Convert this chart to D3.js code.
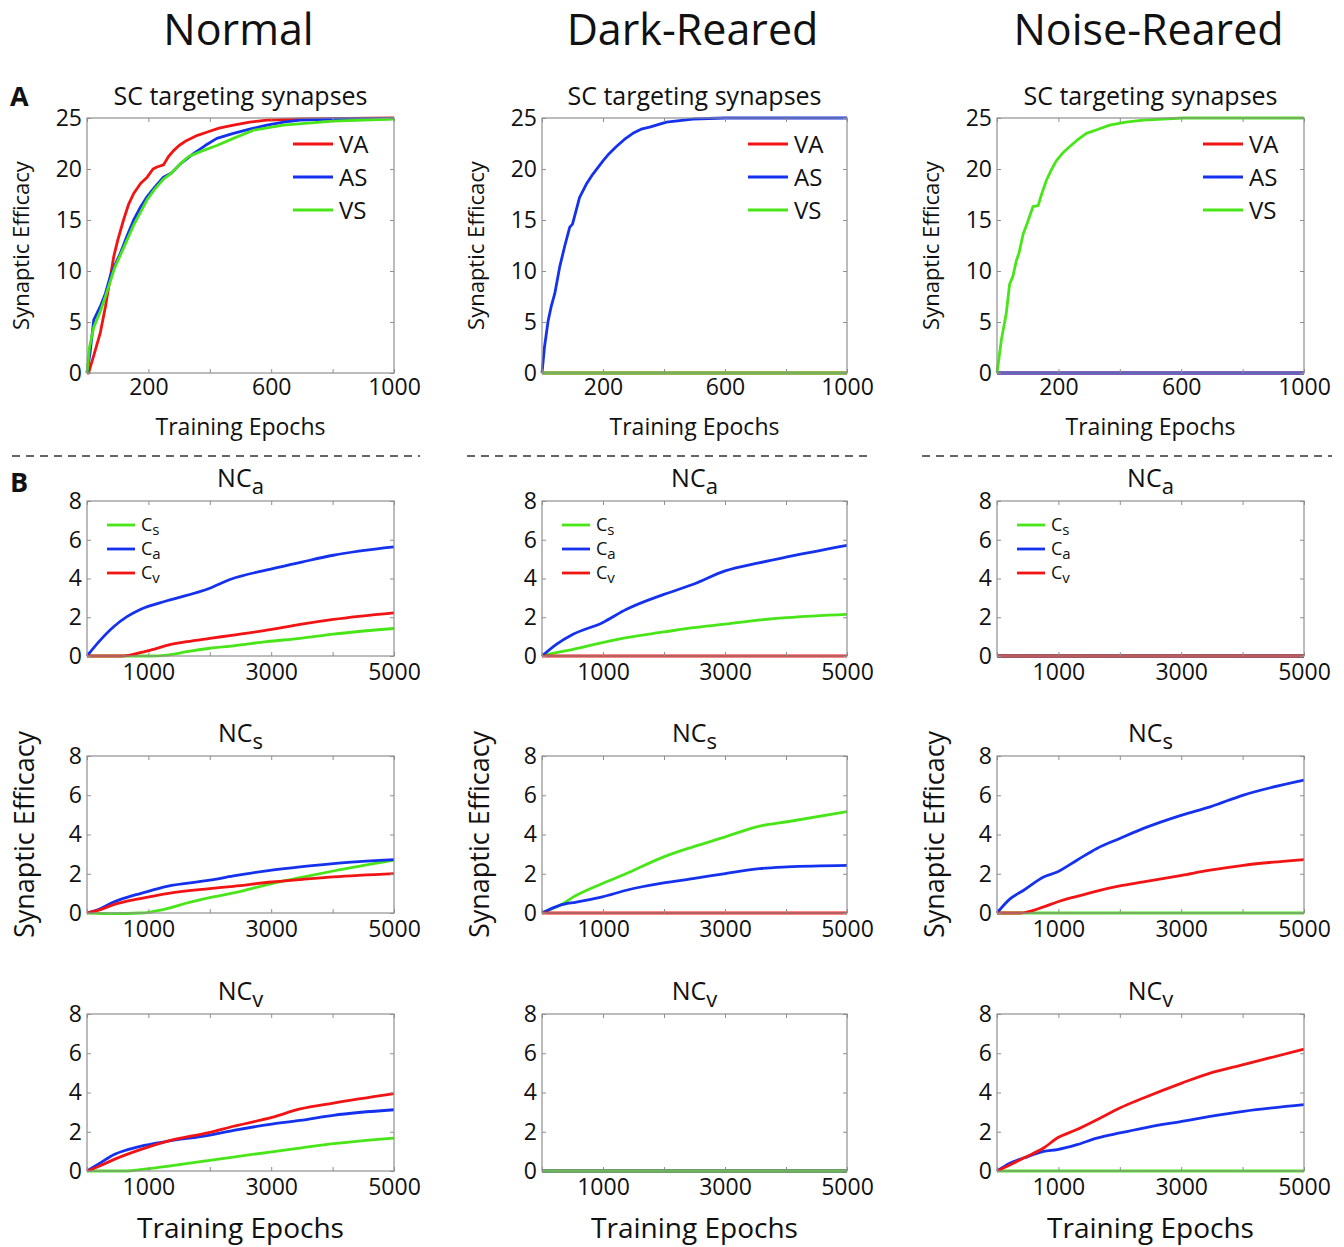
<!DOCTYPE html>
<html>
<head>
<meta charset="utf-8">
<script src="https://cdn.jsdelivr.net/npm/d3@7"></script>
<style>
  body { margin: 0; background: #fff; }
  text { font-family: "Open Sans", sans-serif; fill: #111; }
</style>
</head>
<body>
<div id="chart"></div>
<script>
// ---- data ----
const conditions = ["Normal", "Dark-Reared", "Noise-Reared"];
const scNames = ["VA", "AS", "VS"];
const ncNames = ["a", "s", "v"];          // NC_a, NC_s, NC_v rows
const cNames = ["s", "a", "v"];           // legend C_s, C_a, C_v

const scTicksX = [0, 200, 400, 600, 800, 1000];
const scLabelsX = [200, 600, 1000];
const scTicksY = [0, 5, 10, 15, 20, 25];
const ncTicksX = [0, 1000, 2000, 3000, 4000, 5000];
const ncLabelsX = [1000, 3000, 5000];
const ncTicksY = [0, 2, 4, 6, 8];

const flat1000 = [[0, 0], [1000, 0]];
const flat5000 = [[0, 0], [5000, 0]];

// A: SC targeting synapses [epoch, efficacy]
const normalVA = [[0,0],[5,0],[20,1.5],[43,3.9],[60,6.5],[87,11.4],[100,13],[119,15],[135,16.5],[152,17.6],[175,18.6],[196,19.2],[215,20],[228,20.2],[249,20.4],[265,21.2],[282,21.8],[300,22.3],[325,22.8],[360,23.3],[390,23.6],[430,24],[477,24.3],[530,24.6],[586,24.8],[694,24.9],[1000,25]];
const normalAS = [[0,0],[10,2],[22,5.2],[43,6.5],[60,7.8],[76,9.5],[90,10.5],[108,11.7],[130,13.4],[152,15],[175,16.3],[196,17.3],[220,18.2],[249,19.2],[275,19.6],[304,20.5],[325,21],[347,21.5],[385,22.3],[423,23],[477,23.5],[530,23.9],[586,24.3],[640,24.6],[694,24.8],[800,24.9],[1000,24.95]];
const normalVS = [[0,0],[8,2.5],[22,4.5],[43,6],[60,7.5],[76,9],[90,10.3],[108,11.5],[130,13],[152,14.5],[175,15.8],[196,17],[220,18],[249,19],[275,19.6],[304,20.5],[330,21.2],[369,21.7],[423,22.3],[477,23],[542,23.8],[640,24.3],[720,24.5],[803,24.7],[1000,24.9]];
const darkAS = [[0,0],[8,2.5],[20,5.1],[30,6.5],[42,7.8],[58,10.4],[75,12.5],[91,14.3],[100,14.6],[123,17.2],[145,18.5],[167,19.5],[200,20.8],[220,21.5],[244,22.2],[270,22.9],[298,23.5],[325,23.9],[353,24.1],[408,24.6],[495,24.9],[600,25],[1000,25]];
const noiseVS = [[0,0],[14,3.2],[30,5.8],[41,8.7],[52,9.5],[63,11],[72,11.8],[85,13.6],[100,14.8],[117,16.3],[134,16.4],[145,17.5],[161,18.9],[175,19.8],[193,20.8],[215,21.6],[237,22.2],[260,22.8],[291,23.5],[330,23.9],[367,24.3],[420,24.6],[476,24.8],[607,25],[1000,25]];

// B: neocortex synapses
const normalNCa_Cs = [[0,0],[1030,0],[1302,0.05],[1627,0.22],[2000,0.4],[2386,0.52],[2928,0.74],[3471,0.91],[4013,1.13],[5000,1.42]];
const normalNCa_Ca = [[0,0],[217,0.82],[434,1.51],[651,2.03],[868,2.4],[1302,2.85],[2000,3.5],[2330,3.95],[3010,4.5],[3500,4.85],[4013,5.2],[5000,5.63]];
const normalNCa_Cv = [[0,0],[542,0],[700,0.05],[868,0.17],[1100,0.35],[1302,0.55],[1627,0.74],[2000,0.91],[2386,1.08],[3010,1.37],[3471,1.63],[4013,1.89],[5000,2.23]];
const normalNCs_Cs = [[0,0],[434,-0.03],[868,0],[1030,0.05],[1302,0.22],[1627,0.51],[2000,0.78],[2386,1.02],[3010,1.5],[3471,1.8],[4013,2.14],[5000,2.69]];
const normalNCs_Ca = [[0,0],[217,0.22],[434,0.56],[651,0.8],[868,0.99],[1302,1.36],[2000,1.67],[2386,1.89],[3010,2.18],[3471,2.35],[4013,2.52],[5000,2.72]];
const normalNCs_Cv = [[0,0],[217,0.17],[434,0.43],[651,0.6],[868,0.73],[1302,0.99],[2000,1.24],[2386,1.36],[3010,1.58],[3471,1.7],[4013,1.84],[5000,2.01]];
const normalNCv_Cs = [[0,0],[651,0],[868,0.07],[1302,0.24],[2000,0.54],[2386,0.71],[3010,0.98],[3471,1.17],[4013,1.39],[5000,1.68]];
const normalNCv_Ca = [[0,0],[217,0.41],[434,0.83],[651,1.08],[868,1.26],[1302,1.51],[2000,1.83],[2386,2.07],[3010,2.39],[3471,2.58],[4013,2.84],[5000,3.12]];
const normalNCv_Cv = [[0,0],[217,0.27],[434,0.58],[868,1.09],[1302,1.51],[2000,1.97],[2386,2.28],[3010,2.73],[3471,3.16],[4013,3.46],[5000,3.94]];

const darkNCa_Cs = [[0,0],[235,0.17],[509,0.34],[991,0.69],[1386,0.95],[1999,1.24],[2481,1.46],[3001,1.64],[3576,1.86],[4014,1.98],[5000,2.15]];
const darkNCa_Ca = [[0,0],[235,0.6],[509,1.12],[991,1.72],[1386,2.41],[1999,3.18],[2481,3.7],[3001,4.39],[3576,4.82],[4014,5.11],[5000,5.71]];
const darkNCs_Cs = [[0,0],[290,0.39],[563,0.9],[989,1.5],[1383,2.01],[1995,2.86],[2475,3.37],[3005,3.88],[3568,4.43],[4022,4.65],[5000,5.16]];
const darkNCs_Ca = [[0,0],[290,0.39],[563,0.56],[989,0.82],[1383,1.16],[1995,1.53],[2475,1.75],[3005,2.01],[3568,2.26],[4022,2.35],[5000,2.43]];

const noiseNCs_Ca = [[0,0],[217,0.73],[434,1.16],[759,1.84],[981,2.09],[1302,2.69],[1627,3.29],[2000,3.8],[2386,4.31],[3010,4.99],[3471,5.41],[4013,6.01],[5000,6.77]];
const noiseNCs_Cv = [[0,0],[380,0],[759,0.31],[981,0.56],[1302,0.85],[1627,1.12],[2000,1.38],[2386,1.58],[3010,1.92],[3471,2.18],[4013,2.43],[5000,2.72]];
const noiseNCv_Ca = [[0,0],[217,0.41],[434,0.66],[759,1.0],[981,1.09],[1302,1.34],[1627,1.68],[2000,1.94],[2386,2.19],[3010,2.53],[3471,2.78],[4013,3.04],[5000,3.38]];
const noiseNCv_Cv = [[0,0],[217,0.32],[434,0.66],[759,1.17],[981,1.68],[1302,2.11],[1627,2.61],[2000,3.21],[2386,3.72],[3010,4.48],[3471,4.99],[4013,5.42],[5000,6.21]];

const RED = "#f21414", BLUE = "#1432ee", GREEN = "#48e618";

// ---- layout ----
const W = 1344, H = 1247;
const cols = [{ x0: 87, x1: 394 }, { x0: 542, x1: 847 }, { x0: 997, x1: 1304 }];
const rowA = { y0: 118, y1: 373 };
const rowsB = [{ y0: 501, y1: 656 }, { y0: 756, y1: 913 }, { y0: 1014, y1: 1171 }];

const svg = d3.select("#chart").append("svg")
    .attr("width", W).attr("height", H);

// column headers
conditions.forEach((c, i) => {
    svg.append("text")
        .attr("x", (cols[i].x0 + cols[i].x1) / 2 - 2)
        .attr("y", 45)
        .attr("text-anchor", "middle")
        .style("font-size", "43px")
        .text(c);
});

// panel letters
[["A", 106], ["B", 492]].forEach(([t, y]) => {
    svg.append("text").attr("x", 10).attr("y", y)
        .style("font-size", "27px").style("font-weight", "bold")
        .text(t);
});

// dashed separator
cols.forEach((c, i) => {
    svg.append("line")
        .attr("x1", c.x0 - 75).attr("x2", c.x1 + (i === 2 ? 28 : 26))
        .attr("y1", 456).attr("y2", 456)
        .attr("stroke", "#333").attr("stroke-width", 1.6)
        .attr("stroke-dasharray", "8,6");
});

// generic panel
function drawPanel(p) {
    const x = d3.scaleLinear().domain(p.xDomain).range([p.box.x0, p.box.x1]);
    const y = d3.scaleLinear().domain(p.yDomain).range([p.box.y1, p.box.y0]);
    const g = svg.append("g");
    const w = p.box.x1 - p.box.x0, h = p.box.y1 - p.box.y0;

    // lines first so the frame sits on top
    const line = d3.line().x(d => x(d[0])).y(d => y(d[1])).curve(p.curve || d3.curveLinear);
    p.series.forEach(s => {
        g.append("path")
            .attr("d", line(s.data))
            .attr("fill", "none")
            .attr("stroke", s.color)
            .attr("stroke-width", 2.8)
            .attr("stroke-linejoin", "round");
    });

    g.append("rect")
        .attr("x", p.box.x0).attr("y", p.box.y0)
        .attr("width", w).attr("height", h)
        .attr("fill", "none").attr("stroke", "#8f8f8f").attr("stroke-width", 1.2);

    const fmtX = d => p.xLabels.includes(d) ? d : "";
    const bottom = g.append("g").attr("transform", `translate(0,${p.box.y1})`)
        .call(d3.axisBottom(x).tickValues(p.xTicks).tickFormat(fmtX).tickSizeInner(-4).tickSizeOuter(0).tickPadding(p.xPad));
    const top = g.append("g").attr("transform", `translate(0,${p.box.y0})`)
        .call(d3.axisTop(x).tickValues(p.xTicks).tickFormat("").tickSizeInner(-4).tickSizeOuter(0));
    const left = g.append("g").attr("transform", `translate(${p.box.x0},0)`)
        .call(d3.axisLeft(y).tickValues(p.yTicks).tickSizeInner(-4).tickSizeOuter(0).tickPadding(5));
    const right = g.append("g").attr("transform", `translate(${p.box.x1},0)`)
        .call(d3.axisRight(y).tickValues(p.yTicks).tickFormat("").tickSizeInner(-4).tickSizeOuter(0));
    [bottom, top, left, right].forEach(a => {
        a.select(".domain").remove();
        a.selectAll(".tick line").attr("stroke", "#8f8f8f");
        a.selectAll(".tick text").attr("fill", "#111")
            .style("font-family", "'Open Sans', sans-serif").style("font-size", "23px");
    });

    // title
    const cx = (p.box.x0 + p.box.x1) / 2;
    const t = svg.append("text").attr("x", cx).attr("y", p.box.y0 - p.titleGap)
        .attr("text-anchor", "middle").style("font-size", "25px");
    t.append("tspan").text(p.title);
    if (p.sub) t.append("tspan").attr("dy", 7).style("font-size", "22px").text(p.sub);

    // legend
    if (p.legend) {
        p.legend.items.forEach((it, i) => {
            const ly = p.legend.y + i * p.legend.step;
            svg.append("line")
                .attr("x1", p.box.x0 + p.legend.dx).attr("x2", p.box.x0 + p.legend.dx + p.legend.len)
                .attr("y1", ly).attr("y2", ly)
                .attr("stroke", it.color).attr("stroke-width", 2.8);
            const lt = svg.append("text")
                .attr("x", p.box.x0 + p.legend.dx + p.legend.len + 6)
                .attr("y", ly + p.legend.size * 0.36)
                .style("font-size", p.legend.size + "px");
            lt.append("tspan").text(it.label);
            if (it.sub) lt.append("tspan").attr("dy", 4).style("font-size", (p.legend.size - 3) + "px").text(it.sub);
        });
    }

    if (p.xTitle) {
        svg.append("text").attr("x", cx).attr("y", p.xTitle.y)
            .attr("text-anchor", "middle").style("font-size", p.xTitle.size + "px")
            .text("Training Epochs");
    }
    if (p.yTitle) {
        svg.append("text")
            .attr("transform", `translate(${p.box.x0 - p.yTitle.off},${(p.box.y0 + p.box.y1) / 2}) rotate(-90)`)
            .attr("text-anchor", "middle").style("font-size", p.yTitle.size + "px")
            .text("Synaptic Efficacy");
    }
}

// ---- row A ----
const scSeries = [
    [normalVA, normalAS, normalVS],
    [flat1000, darkAS, flat1000],
    [flat1000, flat1000, noiseVS]
];
const scColors = [RED, BLUE, GREEN];
scSeries.forEach((ser, i) => {
    drawPanel({
        box: { x0: cols[i].x0, x1: cols[i].x1, y0: rowA.y0, y1: rowA.y1 },
        xDomain: [0, 1000], yDomain: [0, 25],
        xTicks: scTicksX, xLabels: scLabelsX, yTicks: scTicksY, xPad: 6,
        title: "SC targeting synapses", titleGap: 13,
        series: ser.map((d, k) => ({ data: d, color: scColors[k] })),
        legend: {
            items: scNames.map((n, k) => ({ label: n, color: scColors[k] })),
            dx: 206, len: 40, y: 144, step: 33, size: 24
        },
        xTitle: { y: 435, size: 23 },
        yTitle: { off: 58, size: 22 }
    });
});

// ---- rows B ----
// per condition, per NC row: [Cs, Ca, Cv]
const ncSeries = [
    [[normalNCa_Cs, normalNCa_Ca, normalNCa_Cv],
     [normalNCs_Cs, normalNCs_Ca, normalNCs_Cv],
     [normalNCv_Cs, normalNCv_Ca, normalNCv_Cv]],
    [[darkNCa_Cs, darkNCa_Ca, flat5000],
     [darkNCs_Cs, darkNCs_Ca, flat5000],
     [flat5000, flat5000, flat5000]],
    [[flat5000, flat5000, flat5000],
     [flat5000, noiseNCs_Ca, noiseNCs_Cv],
     [flat5000, noiseNCv_Ca, noiseNCv_Cv]]
];
const ncColors = [GREEN, BLUE, RED];

ncSeries.forEach((rows, i) => {
    rows.forEach((ser, r) => {
        let series = ser.map((d, k) => ({ data: d, color: ncColors[k] }));
        // dark-reared NC_v: the green flat line sits on top
        if (i === 1 && r === 2) series = [series[2], series[1], series[0]];
        drawPanel({
            box: { x0: cols[i].x0, x1: cols[i].x1, y0: rowsB[r].y0, y1: rowsB[r].y1 },
            xDomain: [0, 5000], yDomain: [0, 8],
            xTicks: ncTicksX, xLabels: ncLabelsX, yTicks: ncTicksY, xPad: 8,
            title: "NC", sub: ncNames[r], titleGap: 14,
            curve: d3.curveMonotoneX,
            series: series,
            legend: r === 0 ? {
                items: cNames.map((n, k) => ({ label: "C", sub: n, color: ncColors[k] })),
                dx: 20, len: 28, y: 525, step: 24, size: 18
            } : null,
            xTitle: r === 2 ? { y: 1238, size: 28 } : null,
            yTitle: r === 1 ? { off: 53, size: 27 } : null
        });
    });
});
</script>
</body>
</html>
